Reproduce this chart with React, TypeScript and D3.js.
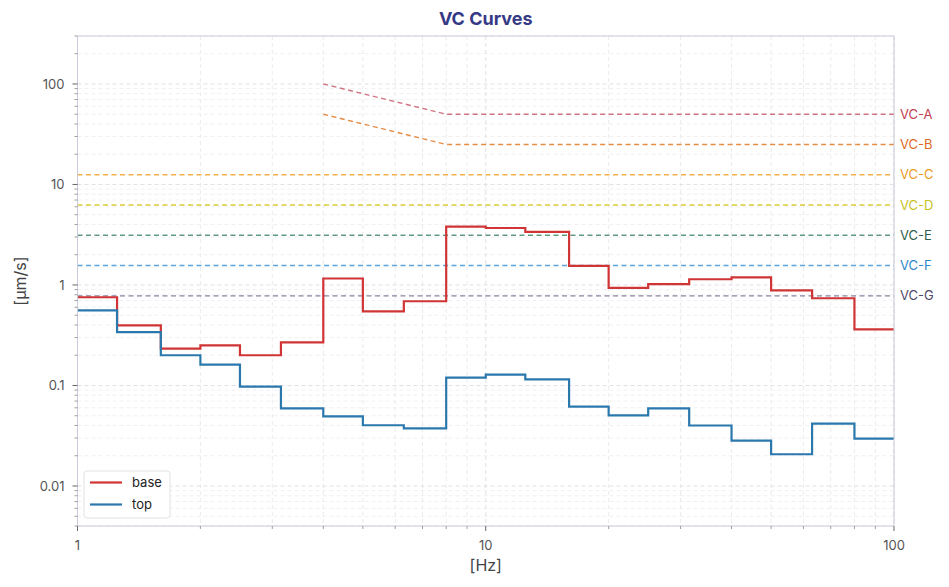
import React from "react";
import * as d3 from "d3";

const bandEdges = [1, 1.25, 1.6, 2, 2.5, 3.15, 4, 5, 6.3, 8, 10, 12.5, 16, 20, 25, 31.5, 40, 50, 63, 80, 100];
const baseValues = [0.755, 0.397, 0.233, 0.251, 0.2, 0.268, 1.16, 0.547, 0.689, 3.81, 3.69, 3.37, 1.55, 0.934, 1.02, 1.14, 1.19, 0.885, 0.738, 0.362];
const topValues = [0.56, 0.34, 0.2, 0.161, 0.0975, 0.0593, 0.0494, 0.0402, 0.0375, 0.12, 0.128, 0.115, 0.0617, 0.0505, 0.0593, 0.04, 0.0283, 0.0207, 0.0418, 0.0296];

const vcNames = ["VC-A", "VC-B", "VC-C", "VC-D", "VC-E", "VC-F", "VC-G"];
const vcLevels = [50, 25, 12.5, 6.25, 3.12, 1.56, 0.78];
const vcStartFreq = [4, 4, 1, 1, 1, 1, 1];
const vcStartLevel = [100, 50, 12.5, 6.25, 3.12, 1.56, 0.78];
const vcKneeFreq = [8, 8, 1, 1, 1, 1, 1];
const vcLineColors = ["#d07484", "#e58c45", "#f2b04a", "#dccb35", "#5f9a82", "#5ea4dc", "#8a849e"];
const vcTextColors = ["#c2404f", "#dd6a24", "#eb9a1f", "#c7c21e", "#2f5e4c", "#2f86c8", "#4f4a6a"];

const xTickValues = [1, 10, 100];
const yTickValues = [0.01, 0.1, 1, 10, 100];
const yTickLabels = ["0.01", "0.1", "1", "10", "100"];

const W = 949, H = 587;
const L = 77.5, R = 894, T = 36, B = 526;
const FONT = "Inter, 'DejaVu Sans', sans-serif";

export default function App() {
  const x = d3.scaleLog().domain([1, 100]).range([L, R]);
  const y = d3.scaleLog().domain([0.004, 300]).range([B, T]);

  const xMinor: number[] = [];
  for (let d = 1; d < 100; d *= 10) for (let k = 2; k <= 9; k++) xMinor.push(d * k);
  const yMinor: number[] = [];
  for (let d = 0.001; d < 1000; d *= 10) for (let k = 2; k <= 9; k++) {
    const v = +(d * k).toPrecision(3);
    if (v >= 0.004 && v <= 300) yMinor.push(v);
  }

  const stepLine = d3.line<[number, number]>().x(d => x(d[0])).y(d => y(d[1])).curve(d3.curveStepAfter);
  const mkSteps = (vals: number[]) => {
    const pts: [number, number][] = vals.map((v, i) => [bandEdges[i], v]);
    pts.push([bandEdges[bandEdges.length - 1], vals[vals.length - 1]]);
    return stepLine(pts) || "";
  };
  const lin = d3.line<[number, number]>().x(d => x(d[0])).y(d => y(d[1]));

  return (
    <svg width={W} height={H} style={{ position: "absolute", left: 0, top: 0, background: "#fff" }} fontFamily={FONT}>
      <rect x={0} y={0} width={W} height={H} fill="#fff" />
      <text x={(L + R) / 2} y={25} textAnchor="middle" fontSize={18} fontWeight={700} fill="#363a86">VC Curves</text>

      {/* minor grid */}
      {xMinor.map((v, i) => (
        <line key={"gx" + i} x1={x(v)} x2={x(v)} y1={T} y2={B} stroke="#e6e6ea" strokeWidth={0.8} strokeDasharray="4,3" />
      ))}
      {yMinor.map((v, i) => (
        <line key={"gy" + i} x1={L} x2={R} y1={y(v)} y2={y(v)} stroke="#ececf0" strokeWidth={0.8} strokeDasharray="4,3" />
      ))}
      {xTickValues.map((v, i) => (
        <line key={"gX" + i} x1={x(v)} x2={x(v)} y1={T} y2={B} stroke="#dddde3" strokeWidth={0.9} strokeDasharray="4,3" />
      ))}
      {yTickValues.map((v, i) => (
        <line key={"gY" + i} x1={L} x2={R} y1={y(v)} y2={y(v)} stroke="#dddde3" strokeWidth={0.9} strokeDasharray="4,3" />
      ))}

      {/* VC curves */}
      {vcNames.map((n, i) => {
        const pts: [number, number][] = [[vcStartFreq[i], vcStartLevel[i]], [vcKneeFreq[i], vcLevels[i]], [100, vcLevels[i]]];
        return (
          <g key={n}>
            <path d={lin(pts) || ""} fill="none" stroke={vcLineColors[i]} strokeWidth={1.4} strokeDasharray="5,3.5" />
            <text x={R + 6} y={y(vcLevels[i])} dy="0.35em" fontSize={13} fill={vcTextColors[i]}>{n}</text>
          </g>
        );
      })}

      {/* data */}
      <path d={mkSteps(baseValues)} fill="none" stroke="#d03434" strokeWidth={2.2} />
      <path d={mkSteps(topValues)} fill="none" stroke="#2b78ad" strokeWidth={2.2} />

      {/* spines */}
      <rect x={L} y={T} width={R - L} height={B - T} fill="none" stroke="#c9cadb" strokeWidth={1} />

      {/* x ticks */}
      {xTickValues.map((v, i) => (
        <g key={"xt" + i}>
          <line x1={x(v)} x2={x(v)} y1={B} y2={B + 5} stroke="#666" strokeWidth={1} />
          <text x={x(v)} y={B + 24} textAnchor="middle" fontSize={13} fill="#555">{v}</text>
        </g>
      ))}
      {xMinor.map((v, i) => (
        <line key={"xm" + i} x1={x(v)} x2={x(v)} y1={B} y2={B + 3} stroke="#888" strokeWidth={0.8} />
      ))}
      {yTickValues.map((v, i) => (
        <g key={"yt" + i}>
          <line x1={L - 5} x2={L} y1={y(v)} y2={y(v)} stroke="#666" strokeWidth={1} />
          <text x={L - 13} y={y(v)} dy="0.35em" textAnchor="end" fontSize={13} fill="#555">{yTickLabels[i]}</text>
        </g>
      ))}
      {yMinor.map((v, i) => (
        <line key={"ym" + i} x1={L - 3} x2={L} y1={y(v)} y2={y(v)} stroke="#888" strokeWidth={0.8} />
      ))}

      <text x={(L + R) / 2} y={571} textAnchor="middle" fontSize={16} fill="#444">[Hz]</text>
      <text transform={`translate(26,${(T + B) / 2}) rotate(-90)`} textAnchor="middle" fontSize={16} fill="#444">[µm/s]</text>

      {/* legend */}
      <g>
        <rect x={84} y={471} width={86} height={47} rx={3} fill="#fff" fillOpacity={0.9} stroke="#e2e2e6" />
        <line x1={90} x2={122} y1={482.5} y2={482.5} stroke="#d03434" strokeWidth={2.2} />
        <text x={132} y={482.5} dy="0.35em" fontSize={13} fill="#222">base</text>
        <line x1={90} x2={122} y1={504.5} y2={504.5} stroke="#2b78ad" strokeWidth={2.2} />
        <text x={132} y={504.5} dy="0.35em" fontSize={13} fill="#222">top</text>
      </g>
    </svg>
  );
}
